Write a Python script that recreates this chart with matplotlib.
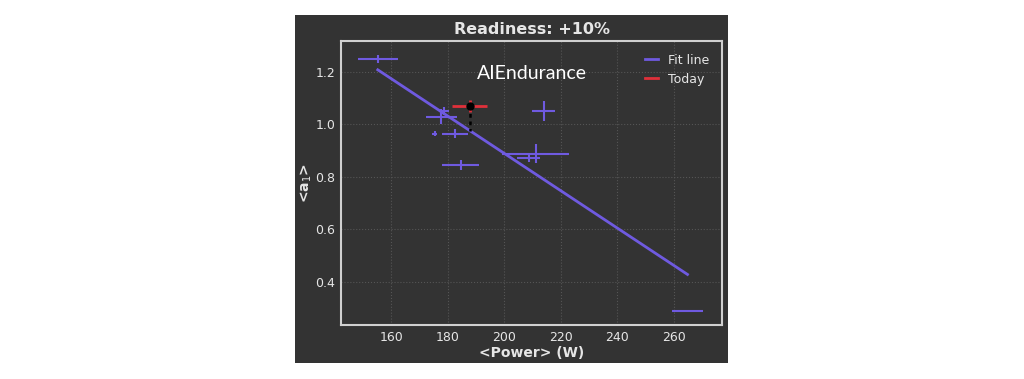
import matplotlib
matplotlib.use("Agg")
import matplotlib.pyplot as plt
from matplotlib.patches import Rectangle
import numpy as np

# data
power = [155.3, 177.8, 178.7, 175.4, 182.5, 213.9, 208.6, 211.1, 184.6, 264.8]
power_err = [7.0, 5.6, 1.9, 0.8, 4.6, 4.1, 4.1, 11.8, 6.5, 5.4]
a1 = [1.250, 1.030, 1.050, 0.965, 0.965, 1.053, 0.874, 0.888, 0.846, 0.291]
a1_err = [0.015, 0.029, 0.015, 0.009, 0.017, 0.038, 0.016, 0.036, 0.020, 0.004]

today_power = 187.8
today_power_err = 6.2
today_a1 = 1.070
today_a1_err = 0.022

fit_slope = -0.00712
fit_intercept = 2.314

title = "Readiness: +10%"
xticks = [160, 180, 200, 220, 240, 260]
yticks = [0.4, 0.6, 0.8, 1.0, 1.2]

BG = "#333333"
PURPLE = "#6f5ae0"
RED = "#e0303a"
LIGHT = "#e6e6e6"

fig = plt.figure(figsize=(10.24, 3.79), dpi=100, facecolor="white")
bgrect = Rectangle((295/1024, 1-363/379), (728-295)/1024, (363-15)/379,
                   transform=fig.transFigure, facecolor=BG, edgecolor="none", zorder=-10)
fig.add_artist(bgrect)
ax = fig.add_axes([341/1024, 1-325/379, (722-341)/1024, (325-41)/379])
ax.set_zorder(1)
ax.set_facecolor(BG)

ax.errorbar(power, a1, xerr=power_err, yerr=a1_err, fmt="none", ecolor=PURPLE,
            elinewidth=1.5, capsize=0, zorder=3)

xs = np.array([min(power), max(power)])
ax.plot(xs, fit_slope*xs + fit_intercept, color=PURPLE, lw=2, label="Fit line", zorder=2)

fit_today = fit_slope*today_power + fit_intercept
ax.plot([today_power, today_power], [today_a1, fit_today], color="black", lw=1.8,
        ls=(0, (1.5, 1.5)), zorder=4)
ax.errorbar([today_power], [today_a1], xerr=[today_power_err], yerr=[today_a1_err],
            fmt="o", color="black", ms=5, ecolor=RED, elinewidth=2, capsize=0, zorder=5)
ax.plot([], [], color=RED, lw=2, label="Today")

ax.set_xlim(142.3, 277)
ax.set_ylim(0.236, 1.318)
ax.set_xticks(xticks)
ax.set_yticks(yticks)
ax.set_xticklabels([str(t) for t in xticks])
ax.set_yticklabels([f"{t:.1f}" for t in yticks])
ax.tick_params(colors=LIGHT, length=0, labelsize=9, pad=4)
ax.grid(True, color="#555555", ls=":", lw=0.8)
for s in ax.spines.values():
    s.set_color("#d0d0d0")
    s.set_linewidth(1.5)

ax.set_xlabel("<Power> (W)", color=LIGHT, fontsize=10, fontweight="bold", labelpad=2)
ax.set_ylabel("<a$_1$>", color=LIGHT, fontsize=10, fontweight="bold", labelpad=1)
ax.set_title(title, color=LIGHT, fontsize=11.5, fontweight="bold", pad=5)

leg = ax.legend(loc="upper right", frameon=False, fontsize=9, labelcolor=LIGHT,
                handlelength=1.1, borderaxespad=0.6)

ax.text(0.5, 0.885, "AIEndurance", transform=ax.transAxes, ha="center", va="center",
        color="white", fontsize=14, fontfamily="Lato", fontweight="normal")

fig.savefig("out.png", dpi=100, facecolor="white")
